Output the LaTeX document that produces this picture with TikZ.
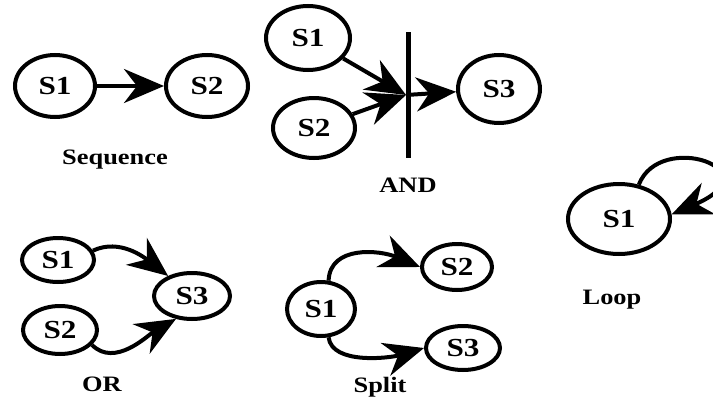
\documentclass[tikz,border=0pt]{standalone}
\usepackage{fontspec}
\setmainfont{Liberation Serif}[FakeStretch=1.2]
\usetikzlibrary{shapes.geometric,arrows.meta}
\begin{document}
\begin{tikzpicture}[x=1pt,y=-1pt,
  state/.style={ellipse, draw, line width=4pt, inner sep=0pt,
    font=\bfseries\fontsize{26}{26}\selectfont},
  arr/.style={line width=4pt, -{Stealth[length=40pt,width=34pt,inset=13pt]}},
  bar/.style={line width=5pt},
  lbl/.style={font=\bfseries\fontsize{22}{22}\selectfont}]
\useasboundingbox[fill=white] (0,0) rectangle (713,399);
\clip (0,0) rectangle (713,399);

% Sequence
\node[state, minimum width=80pt, minimum height=62pt] (qa) at (55,86) {S1};
\node[state, minimum width=82pt, minimum height=62pt] (qb) at (207,86) {S2};
\draw[arr] (qa) -- (qb);
\node[lbl] (qlbl) at (115,160) {Sequence};

% AND
\node[state, minimum width=84pt, minimum height=64pt] (aa) at (308,38) {S1};
\node[state, minimum width=82pt, minimum height=60pt] (ab) at (314,128) {S2};
\node[state, minimum width=82pt, minimum height=68pt] (ac) at (499,89) {S3};
\coordinate (bt) at (408,32);
\coordinate (bb) at (408,158);
\coordinate (aj) at (406,95);
\draw[bar] (bt) -- (bb);
\draw[arr] (aa) -- (aj);
\draw[arr] (ab) -- (aj);
\draw[arr] (aj) -- (ac);
\node[lbl] (albl) at (408,185) {AND};

% OR
\node[state, minimum width=72pt, minimum height=44pt] (oa) at (58,260) {S1};
\node[state, minimum width=74pt, minimum height=48pt] (ob) at (60,330) {S2};
\node[state, minimum width=76pt, minimum height=46pt] (oc) at (192,296) {S3};
\draw[arr] (oa.15) .. controls (120,238) and (145,258) .. (oc.140);
\draw[arr] (ob.-25) .. controls (115,368) and (148,335) .. (oc.-125);
\node[lbl] (olbl) at (102,384) {OR};

% Split
\node[state, minimum width=68pt, minimum height=54pt] (sa) at (321,309) {S1};
\node[state, minimum width=70pt, minimum height=46pt] (sb) at (457,267) {S2};
\node[state, minimum width=74pt, minimum height=44pt] (sc) at (463,348) {S3};
\draw[arr] (sa.75) .. controls (330,245) and (380,250) .. (sb.west);
\draw[arr] (sa.-75) .. controls (332,365) and (390,358) .. (sc.west);
\node[lbl] (slbl) at (380,387) {Split};

% Loop
\node[state, minimum width=102pt, minimum height=70pt] (la) at (619,219) {S1};
\draw[arr] (la.60) .. controls (660,130) and (775,170) .. (la.5);
\node[lbl] (llbl) at (612,300) {Loop};
\end{tikzpicture}
\end{document}
